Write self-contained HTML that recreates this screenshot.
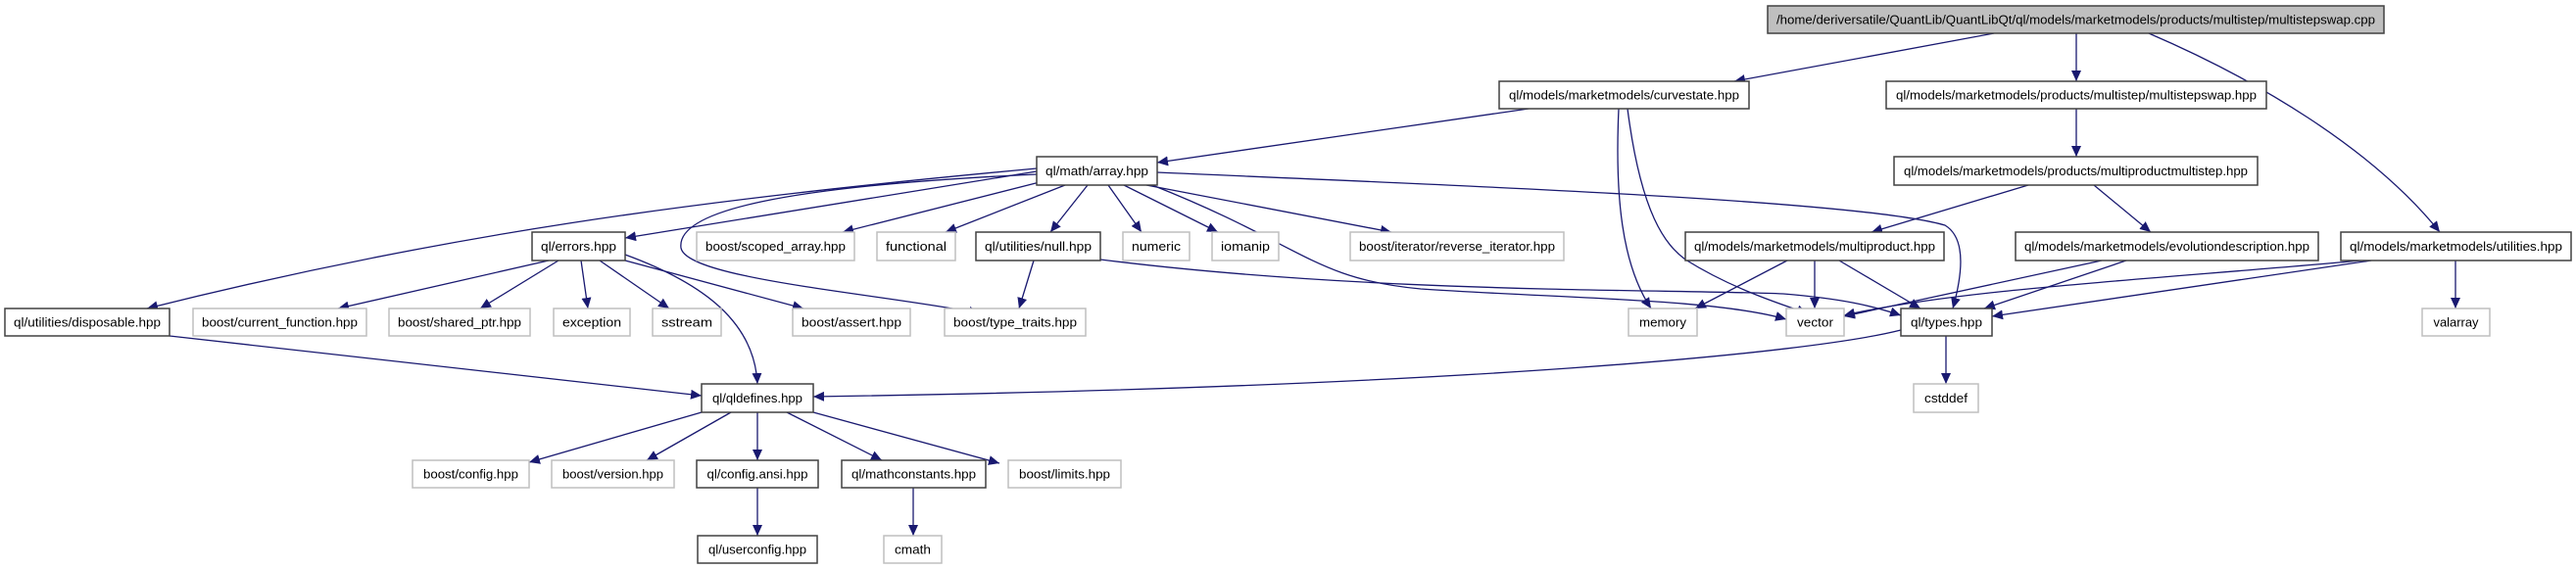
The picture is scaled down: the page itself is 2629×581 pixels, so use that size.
<!DOCTYPE html>
<html><head><meta charset="utf-8"><style>
html,body{margin:0;padding:0;background:#fff;}
svg{display:block;}
text{font-family:"Liberation Sans",sans-serif;font-size:12.5px;fill:#000;}
.e{fill:none;stroke:#191970;stroke-width:1.3;marker-end:url(#a);}
.b{fill:#fff;stroke:#404040;stroke-width:1.5;}
.g{fill:#fff;stroke:#bfbfbf;stroke-width:1.5;}
</style></head><body>
<svg width="2629" height="581" viewBox="0 0 2629 581" xmlns="http://www.w3.org/2000/svg">
<defs><marker id="a" markerUnits="userSpaceOnUse" markerWidth="12" markerHeight="10" refX="11" refY="5" orient="auto"><path d="M0,0 L11,5 L0,10 z" fill="#191970"/></marker></defs>
<g>
<path class="e" d="M2035,34 L1770,83"/>
<path class="e" d="M2119,34 L2119,83"/>
<path class="e" d="M2193,34 C2300,80 2420,150 2490,237"/>
<path class="e" d="M1560,111 L1181,166"/>
<path class="e" d="M1652,111 C1648,200 1655,270 1685,315"/>
<path class="e" d="M1661,111 C1675,220 1700,250 1720,265 C1760,290 1800,305 1845,320"/>
<path class="e" d="M2119,111 L2119,160"/>
<path class="e" d="M2070,189 L1910,237"/>
<path class="e" d="M2137,189 L2195,237"/>
<path class="e" d="M1058,175 L638,243"/>
<path class="e" d="M1058,172 C700,205 450,240 150,315"/>
<path class="e" d="M1065,185 L860,237"/>
<path class="e" d="M1058,178 C800,190 690,215 695,253 C700,285 900,300 1000,320"/>
<path class="e" d="M1087,189 L965,237"/>
<path class="e" d="M1110,189 L1072,237"/>
<path class="e" d="M1131,189 L1165,237"/>
<path class="e" d="M1147,189 L1243,237"/>
<path class="e" d="M1170,189 L1420,237"/>
<path class="e" d="M1176,189 C1330,250 1340,285 1450,295 C1600,305 1750,305 1823,326"/>
<path class="e" d="M1123,265 C1400,300 1700,295 1820,300 C1880,305 1910,312 1940,322"/>
<path class="e" d="M1181,176 C1500,190 1900,205 1985,230 C2010,245 2000,290 1993,315"/>
<path class="e" d="M560,266 L345,315"/>
<path class="e" d="M570,266 L490,315"/>
<path class="e" d="M593,266 L600,315"/>
<path class="e" d="M612,266 L683,315"/>
<path class="e" d="M638,266 L820,315"/>
<path class="e" d="M638,260 C720,290 770,330 773,392"/>
<path class="e" d="M1055,266 L1040,315"/>
<path class="e" d="M173,343 L716,404"/>
<path class="e" d="M1940,337 C1850,360 1500,395 830,405"/>
<path class="e" d="M1986,343 L1986,392"/>
<path class="e" d="M716,421 L540,472"/>
<path class="e" d="M746,421 L660,470"/>
<path class="e" d="M773,421 L773,470"/>
<path class="e" d="M803,421 L900,470"/>
<path class="e" d="M830,421 L1020,473"/>
<path class="e" d="M773,498 L773,547"/>
<path class="e" d="M932,498 L932,547"/>
<path class="e" d="M1824,266 L1730,315"/>
<path class="e" d="M1852,266 L1852,315"/>
<path class="e" d="M1877,266 L1960,315"/>
<path class="e" d="M2145,266 L1882,323"/>
<path class="e" d="M2170,266 L2025,315"/>
<path class="e" d="M2410,266 C2200,285 2000,295 1882,322"/>
<path class="e" d="M2420,266 L2033,323"/>
<path class="e" d="M2506,266 L2506,315"/>
</g>
<g>
<rect x="1804" y="6" width="629" height="28" fill="#bfbfbf" stroke="#404040" stroke-width="1.5"/>
<text x="2118.5" y="24.5" text-anchor="middle" textLength="611" lengthAdjust="spacingAndGlyphs">/home/deriversatile/QuantLib/QuantLibQt/ql/models/marketmodels/products/multistep/multistepswap.cpp</text>
</g>
<g id="nodes"></g>
<!-- black nodes -->
<rect class="b" x="1530" y="83" width="255" height="28"/><text x="1657.5" y="101.5" text-anchor="middle" textLength="235" lengthAdjust="spacingAndGlyphs">ql/models/marketmodels/curvestate.hpp</text>
<rect class="b" x="1925" y="83" width="388" height="28"/><text x="2119" y="101.5" text-anchor="middle" textLength="368" lengthAdjust="spacingAndGlyphs">ql/models/marketmodels/products/multistep/multistepswap.hpp</text>
<rect class="b" x="1933" y="160" width="371" height="29"/><text x="2118.5" y="179" text-anchor="middle" textLength="351" lengthAdjust="spacingAndGlyphs">ql/models/marketmodels/products/multiproductmultistep.hpp</text>
<rect class="b" x="1058" y="160" width="123" height="29"/><text x="1119.5" y="179" text-anchor="middle" textLength="105" lengthAdjust="spacingAndGlyphs">ql/math/array.hpp</text>
<rect class="b" x="543" y="237" width="95" height="29"/><text x="590.5" y="256" text-anchor="middle" textLength="77" lengthAdjust="spacingAndGlyphs">ql/errors.hpp</text>
<rect class="g" x="711" y="237" width="161" height="29"/><text x="791.5" y="256" text-anchor="middle" textLength="143" lengthAdjust="spacingAndGlyphs">boost/scoped_array.hpp</text>
<rect class="g" x="895" y="237" width="80" height="29"/><text x="935" y="256" text-anchor="middle" textLength="62" lengthAdjust="spacingAndGlyphs">functional</text>
<rect class="b" x="996" y="237" width="127" height="29"/><text x="1059.5" y="256" text-anchor="middle" textLength="109" lengthAdjust="spacingAndGlyphs">ql/utilities/null.hpp</text>
<rect class="g" x="1146" y="237" width="68" height="29"/><text x="1180" y="256" text-anchor="middle" textLength="50" lengthAdjust="spacingAndGlyphs">numeric</text>
<rect class="g" x="1237" y="237" width="68" height="29"/><text x="1271" y="256" text-anchor="middle" textLength="50" lengthAdjust="spacingAndGlyphs">iomanip</text>
<rect class="g" x="1378" y="237" width="218" height="29"/><text x="1487" y="256" text-anchor="middle" textLength="200" lengthAdjust="spacingAndGlyphs">boost/iterator/reverse_iterator.hpp</text>
<rect class="b" x="1720" y="237" width="264" height="29"/><text x="1852" y="256" text-anchor="middle" textLength="246" lengthAdjust="spacingAndGlyphs">ql/models/marketmodels/multiproduct.hpp</text>
<rect class="b" x="2057" y="237" width="309" height="29"/><text x="2211.5" y="256" text-anchor="middle" textLength="291" lengthAdjust="spacingAndGlyphs">ql/models/marketmodels/evolutiondescription.hpp</text>
<rect class="b" x="2389" y="237" width="235" height="29"/><text x="2506.5" y="256" text-anchor="middle" textLength="217" lengthAdjust="spacingAndGlyphs">ql/models/marketmodels/utilities.hpp</text>
<rect class="b" x="5" y="315" width="168" height="28"/><text x="89" y="333.5" text-anchor="middle" textLength="150" lengthAdjust="spacingAndGlyphs">ql/utilities/disposable.hpp</text>
<rect class="g" x="197" y="315" width="177" height="28"/><text x="285.5" y="333.5" text-anchor="middle" textLength="159" lengthAdjust="spacingAndGlyphs">boost/current_function.hpp</text>
<rect class="g" x="397" y="315" width="144" height="28"/><text x="469" y="333.5" text-anchor="middle" textLength="126" lengthAdjust="spacingAndGlyphs">boost/shared_ptr.hpp</text>
<rect class="g" x="565" y="315" width="78" height="28"/><text x="604" y="333.5" text-anchor="middle" textLength="60" lengthAdjust="spacingAndGlyphs">exception</text>
<rect class="g" x="666" y="315" width="70" height="28"/><text x="701" y="333.5" text-anchor="middle" textLength="52" lengthAdjust="spacingAndGlyphs">sstream</text>
<rect class="g" x="809" y="315" width="120" height="28"/><text x="869" y="333.5" text-anchor="middle" textLength="102" lengthAdjust="spacingAndGlyphs">boost/assert.hpp</text>
<rect class="g" x="964" y="315" width="144" height="28"/><text x="1036" y="333.5" text-anchor="middle" textLength="126" lengthAdjust="spacingAndGlyphs">boost/type_traits.hpp</text>
<rect class="g" x="1662" y="315" width="70" height="28"/><text x="1697" y="333.5" text-anchor="middle" textLength="48" lengthAdjust="spacingAndGlyphs">memory</text>
<rect class="g" x="1823" y="315" width="59" height="28"/><text x="1852.5" y="333.5" text-anchor="middle" textLength="37" lengthAdjust="spacingAndGlyphs">vector</text>
<rect class="b" x="1940" y="315" width="93" height="28"/><text x="1986.5" y="333.5" text-anchor="middle" textLength="73" lengthAdjust="spacingAndGlyphs">ql/types.hpp</text>
<rect class="g" x="2472" y="315" width="69" height="28"/><text x="2506.5" y="333.5" text-anchor="middle" textLength="46" lengthAdjust="spacingAndGlyphs">valarray</text>
<rect class="b" x="716" y="392" width="114" height="29"/><text x="773" y="411" text-anchor="middle" textLength="92" lengthAdjust="spacingAndGlyphs">ql/qldefines.hpp</text>
<rect class="g" x="1953" y="392" width="66" height="29"/><text x="1986" y="411" text-anchor="middle" textLength="44" lengthAdjust="spacingAndGlyphs">cstddef</text>
<rect class="g" x="421" y="470" width="119" height="28"/><text x="480.5" y="488.5" text-anchor="middle" textLength="97" lengthAdjust="spacingAndGlyphs">boost/config.hpp</text>
<rect class="g" x="563" y="470" width="125" height="28"/><text x="625.5" y="488.5" text-anchor="middle" textLength="103" lengthAdjust="spacingAndGlyphs">boost/version.hpp</text>
<rect class="b" x="711" y="470" width="124" height="28"/><text x="773" y="488.5" text-anchor="middle" textLength="103" lengthAdjust="spacingAndGlyphs">ql/config.ansi.hpp</text>
<rect class="b" x="859" y="470" width="147" height="28"/><text x="932.5" y="488.5" text-anchor="middle" textLength="127" lengthAdjust="spacingAndGlyphs">ql/mathconstants.hpp</text>
<rect class="g" x="1029" y="470" width="115" height="28"/><text x="1086.5" y="488.5" text-anchor="middle" textLength="93" lengthAdjust="spacingAndGlyphs">boost/limits.hpp</text>
<rect class="b" x="712" y="547" width="122" height="28"/><text x="773" y="565.5" text-anchor="middle" textLength="100" lengthAdjust="spacingAndGlyphs">ql/userconfig.hpp</text>
<rect class="g" x="902" y="547" width="59" height="28"/><text x="931.5" y="565.5" text-anchor="middle" textLength="37" lengthAdjust="spacingAndGlyphs">cmath</text>
</svg>
</body></html>
